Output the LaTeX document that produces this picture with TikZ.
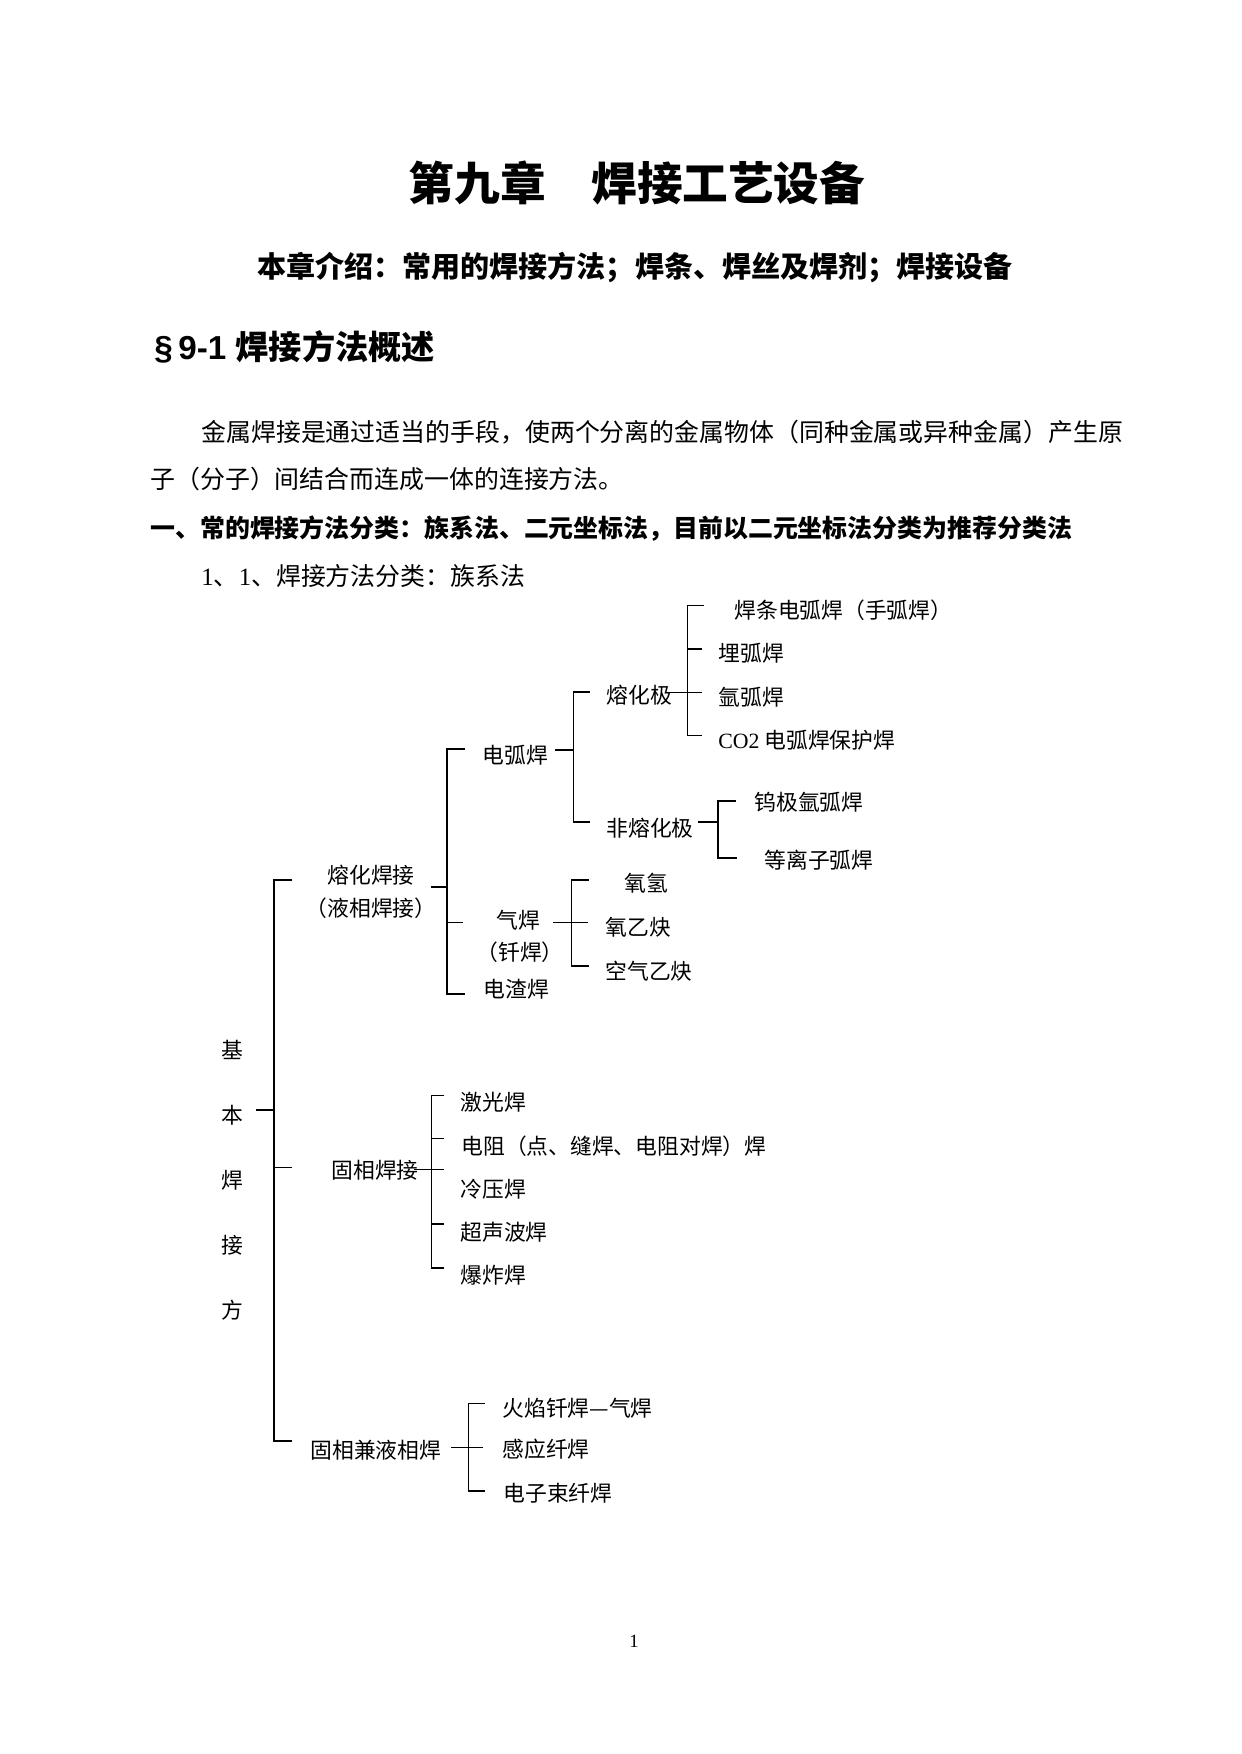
\documentclass[tikz,border=0pt]{standalone}
\usepackage{fontspec}
\setmainfont{Noto Sans CJK SC}
\newfontfamily\tms{Liberation Serif}
\newfontfamily\arl{Liberation Sans}
\tikzset{
  lb/.style={inner sep=0pt, anchor=west, font=\fontsize{10.5pt}{12pt}\selectfont},
  lbc/.style={inner sep=0pt, anchor=center, font=\fontsize{10.5pt}{12pt}\selectfont},
  body/.style={inner sep=0pt, anchor=west, font=\fontsize{12pt}{14pt}\selectfont},
  bodyb/.style={inner sep=0pt, anchor=west, font=\fontsize{12pt}{14pt}\selectfont\bfseries},
  thk/.style={line width=0.8pt},
  thn/.style={line width=0.45pt}
}
\begin{document}
\begin{tikzpicture}[x=0.4818pt,y=-0.4818pt]
\useasboundingbox[fill=white] (0,0) rectangle (1241,1754);
% headings
\node[inner sep=0pt, font=\fontsize{22pt}{26pt}\selectfont\bfseries] (title) at (637,183) {第九章　焊接工艺设备};
\node[inner sep=0pt, font=\fontsize{14pt}{17pt}\selectfont\bfseries] (sub) at (635,268) {本章介绍：常用的焊接方法；焊条、焊丝及焊剂；焊接设备};
\node[inner sep=0pt, anchor=west, font=\fontsize{16pt}{19pt}\selectfont\bfseries] (sec) at (154,347) {{\arl §\,9-1 }焊接方法概述};
% body
\node[body] (p1) at (201,432) {金属焊接是通过适当的手段，使两个分离的金属物体（同种金属或异种金属）产生原};
\node[body] (p2) at (150,479) {子（分子）间结合而连成一体的连接方法。};
\node[bodyb] (p3) at (150,529) {一、常的焊接方法分类：族系法、二元坐标法，目前以二元坐标法分类为推荐分类法};
\node[body] (p4) at (201,576) {{\tms 1}、{\tms 1}、焊接方法分类：族系法};
% tree labels
\node[lb] (a1) at (734,610) {焊条电弧焊（手弧焊）};
\node[lb] (a2) at (718,653) {埋弧焊};
\node[lb] (a3) at (718,697) {氩弧焊};
\node[lb] (a4) at (718,740) {{\tms CO2} 电弧焊保护焊};
\node[lb] (rhj) at (606,695) {熔化极};
\node[lb] (frhj) at (606,828) {非熔化极};
\node[lb] (b1) at (754,802) {钨极氩弧焊};
\node[lb] (b2) at (764,860) {等离子弧焊};
\node[lb] (dhh) at (482,755) {电弧焊};
\node[lbc] (rhhj) at (371,875) {熔化焊接};
\node[lbc] (yxhj) at (371,908) {（液相焊接）};
\node[lbc] (qh) at (518,920) {气焊};
\node[lbc] (qh2) at (520,952) {（钎焊）};
\node[lb] (dzh) at (483,989) {电渣焊};
\node[lb] (c1) at (624,883) {氧氢};
\node[lb] (c2) at (605,927) {氧乙炔};
\node[lb] (c3) at (605,971) {空气乙炔};
\node[lbc] (k1) at (232,1050) {基};
\node[lbc] (k2) at (232,1115) {本};
\node[lbc] (k3) at (232,1180) {焊};
\node[lbc] (k4) at (232,1245) {接};
\node[lbc] (k5) at (232,1310) {方};
\node[lb] (gxhj) at (331,1170) {固相焊接};
\node[lb] (d1) at (460,1102) {激光焊};
\node[lb] (d2) at (461,1146) {电阻（点、缝焊、电阻对焊）焊};
\node[lb] (d3) at (460,1189) {冷压焊};
\node[lb] (d4) at (460,1232) {超声波焊};
\node[lb] (d5) at (460,1275) {爆炸焊};
\node[lb] (gxj) at (310,1450) {固相兼液相焊};
\node[lb] (e1) at (502,1408) {火焰钎焊—气焊};
\node[lb] (e2) at (502,1449) {感应纤焊};
\node[lb] (e3) at (503,1493) {电子束纤焊};
\node[inner sep=0pt, font=\tms\fontsize{9pt}{11pt}\selectfont] (pg) at (634,1641) {1};
% main bracket
\draw[thk] (292,880) -- (274,880) -- (274,1441) -- (292,1441);
\draw[thk] (256,1110) -- (274,1110);
\draw[thn] (274,1167) -- (292,1167);
% 熔化焊接 subtree
\draw[thk] (431,887) -- (447,887);
\draw[thk] (465,749) -- (447,749) -- (447,994) -- (465,994);
\draw[thn] (447,922) -- (463,922);
% 电弧焊
\draw[thk] (555,750) -- (573.6,750);
\draw[thk] (590,692) -- (573.6,692) -- (573.6,822) -- (590,822);
% 熔化极
\draw[thn] (666,692) -- (702,692);
\draw[thn] (704,605) -- (687,605) -- (687,735) -- (702,735);
\draw[thk] (687,649) -- (702,649);
% 非熔化极
\draw[thk] (698,822) -- (718,822);
\draw[thk] (736,801) -- (718,801) -- (718,858) -- (737,858);
% 气焊
\draw[thn] (553,922) -- (571.6,922);
\draw[thk] (589,880) -- (571.6,880) -- (571.6,966) -- (589,966);
\draw[thn] (571.6,922) -- (588,922);
% 固相焊接
\draw[thn] (414,1169) -- (444,1169);
\draw[thn] (444,1095) -- (431,1095) -- (431,1268);
\draw[thn] (431,1138) -- (444,1138);
\draw[thk] (431,1224) -- (444,1224);
\draw[thk] (431,1268) -- (444,1268);
% 固相兼液相焊
\draw[thn] (451,1447) -- (483,1447);
\draw[thn] (485,1403) -- (468,1403) -- (468,1491);
\draw[thk] (468,1491) -- (485,1491);
\end{tikzpicture}
\end{document}
